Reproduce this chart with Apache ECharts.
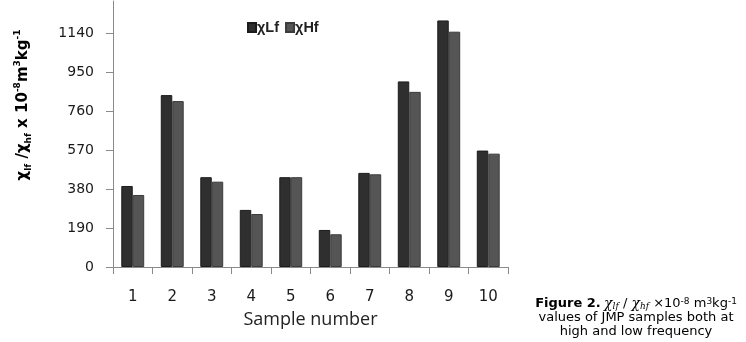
<!DOCTYPE html>
<html><head><meta charset="utf-8">
<script src="https://cdn.jsdelivr.net/npm/echarts@6/dist/echarts.min.js"></script>
<style>html,body{margin:0;padding:0;background:#fff}#c{width:746px;height:342px}</style>
</head><body><div id="c"></div>
<script>
const categories = ['1', '2', '3', '4', '5', '6', '7', '8', '9', '10'];
const chiLf = [396, 840, 439, 279, 439, 181, 460, 907, 1205, 569];
const chiHf = [352, 811, 417, 259, 439, 160, 453, 856, 1150, 554];
const seriesNames = ['χLf', 'χHf'];
const yMin = 0, yMax = 1300, yInterval = 190;

const chart = echarts.init(document.getElementById('c'), null, {renderer: 'canvas'});
const axisGray = '#8a8a8a';
chart.setOption({
  animation: false,
  backgroundColor: '#ffffff',
  grid: {left: 113, right: 238, top: 1, bottom: 75, containLabel: false},
  legend: {
    left: 242, top: 15, itemWidth: 8, itemHeight: 9, itemGap: 6,
    icon: 'rect',
    textStyle: {fontFamily: 'Liberation Sans', fontWeight: 'bold', fontSize: 14.5, color: '#222', padding: [0, 0, 0, -4]},
    data: seriesNames
  },
  xAxis: {
    type: 'category', data: categories,
    axisLine: {lineStyle: {color: axisGray, width: 1}},
    axisTick: {show: true, length: 7, inside: false, lineStyle: {color: axisGray}},
    axisLabel: {fontFamily: 'DejaVu Sans', fontSize: 15, color: '#1a1a1a', margin: 23},
    name: 'Sample number', nameLocation: 'middle', nameGap: 44,
    nameTextStyle: {fontFamily: 'Open Sans', fontSize: 18, color: '#222'}
  },
  yAxis: {
    type: 'value', min: yMin, max: yMax, interval: yInterval,
    splitLine: {show: false},
    axisLine: {show: true, lineStyle: {color: axisGray, width: 1}},
    axisTick: {show: true, length: 7, lineStyle: {color: axisGray}},
    axisLabel: {fontFamily: 'DejaVu Sans', fontSize: 14, color: '#1a1a1a', margin: 19, showMaxLabel: false,
                formatter: function (v) { return String(v); }}
  },
  series: [
    {name: seriesNames[0], type: 'bar', data: chiLf, barGap: '0%', barCategoryGap: '42%',
     itemStyle: {color: '#2f2f2f', borderColor: '#1c1c1c', borderWidth: 1}},
    {name: seriesNames[1], type: 'bar', data: chiHf, barGap: '0%', barCategoryGap: '42%',
     itemStyle: {color: '#555555', borderColor: '#3c3c3c', borderWidth: 1}}
  ],
  graphic: [
    {
      type: 'text', x: 23, y: 105, rotation: Math.PI / 2,
      style: {
        text: '{m|χ}{s|lf}{m| /χ}{s|hf}{m| x 10}{p|-8}{m|m}{p|3}{m|kg}{p|-1}',
        align: 'center', verticalAlign: 'middle',
        rich: {
          m: {fontFamily: 'DejaVu Sans', fontWeight: 'bold', fontSize: 15, lineHeight: 20, color: '#111'},
          s: {fontFamily: 'DejaVu Sans', fontWeight: 'bold', fontSize: 9, lineHeight: 11, verticalAlign: 'bottom', color: '#111'},
          p: {fontFamily: 'DejaVu Sans', fontWeight: 'bold', fontSize: 9, lineHeight: 11, verticalAlign: 'top', color: '#111'}
        }
      }
    },
    {
      type: 'text', x: 636, y: 318,
      style: {
        text: '{b|Figure 2.} {i|χ}{is|lf}{n| / }{i|χ}{is|hf}{n| ×10}{p|-8}{n| m}{p|3}{n|kg}{p|-1}\n{n|values of JMP samples both at}\n{n|high and low frequency}',
        align: 'center', verticalAlign: 'middle',
        rich: {
          b: {fontFamily: 'DejaVu Sans', fontWeight: 'bold', fontSize: 13, lineHeight: 14, color: '#222'},
          n: {fontFamily: 'DejaVu Sans', fontSize: 13, lineHeight: 14, color: '#222'},
          i: {fontFamily: 'DejaVu Serif', fontStyle: 'italic', fontSize: 14, lineHeight: 14, color: '#222'},
          is: {fontFamily: 'DejaVu Serif', fontStyle: 'italic', fontSize: 9, lineHeight: 9, verticalAlign: 'bottom', color: '#222'},
          p: {fontFamily: 'DejaVu Sans', fontSize: 9, lineHeight: 9, verticalAlign: 'top', color: '#222'}
        }
      }
    }
  ]
});
</script>
</body></html>
